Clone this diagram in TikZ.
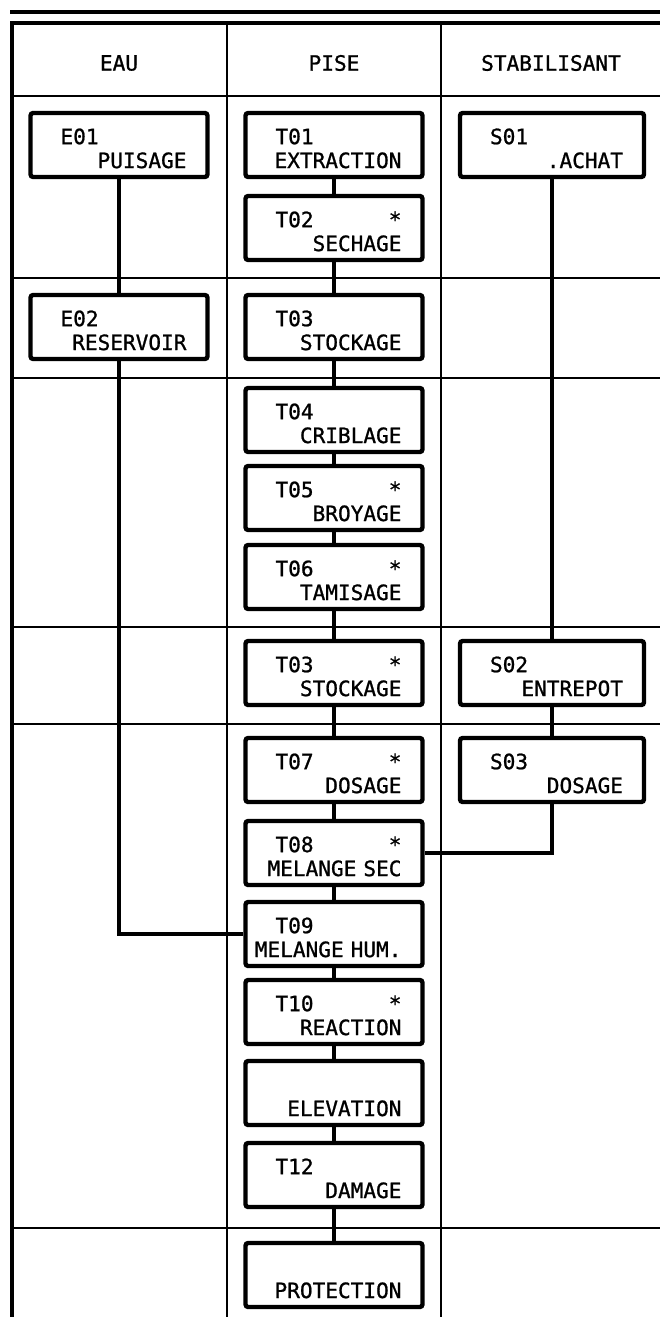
\documentclass[tikz,border=0pt]{standalone}
\usepackage{fontspec}
\setmainfont{DejaVu Sans Mono}[FakeBold=1]
\usepackage{tikz}

\newcommand{\stepid}[2]{\rule{0pt}{0.45cm}\hspace*{0.18cm}#1\hfill#2\null}

\begin{document}
\begin{tikzpicture}[
x=0.02cm, y=-0.02cm,
font=\fontsize{12}{13.6}\selectfont,
grid/.style={line width=1.1pt},
frame/.style={line width=2.2pt},
box/.style={draw, line width=2.5pt, rounded corners=1.5pt, fill=white, inner xsep=0.42cm, inner ysep=0pt, text width=#1, minimum height=1.28cm, align=right},
box/.default=2.7cm,
link/.style={line width=2.3pt}
]
\useasboundingbox (0,0) rectangle (660,1317);
\draw[line width=2.3pt] (10,12) -- (660,12);
\draw[frame] (12,1317) -- (12,23) -- (660,23);
\draw[grid] (227,23) -- (227,1317);
\draw[grid] (441,23) -- (441,1317);
\foreach \y in {96,278,378,627,724,1228}
  \draw[grid] (12,\y) -- (660,\y);

\node (eau) at (119,63) {EAU};
\node (pise) at (334,63) {PISE};
\node (stab) at (551,63) {STABILISANT};

\node[box] (e01) at (119,145) {\stepid{E01}{}\\PUISAGE};
\node[box] (e02) at (119,327) {\stepid{E02}{}\\RESERVOIR};
\node[box] (t01) at (334,145) {\stepid{T01}{}\\EXTRACTION};
\node[box] (t02) at (334,228) {\stepid{T02}{*}\\SECHAGE};
\node[box] (t03) at (334,327) {\stepid{T03}{}\\STOCKAGE};
\node[box] (t04) at (334,420) {\stepid{T04}{}\\CRIBLAGE};
\node[box] (t05) at (334,498) {\stepid{T05}{*}\\BROYAGE};
\node[box] (t06) at (334,577) {\stepid{T06}{*}\\TAMISAGE};
\node[box] (t03b) at (334,673) {\stepid{T03}{*}\\STOCKAGE};
\node[box] (t07) at (334,770) {\stepid{T07}{*}\\DOSAGE};
\node[box] (t08) at (334,853) {\stepid{T08}{*}\\MELANGE SEC};
\node[box] (t09) at (334,934) {\stepid{T09}{}\\\leavevmode\llap{MELANGE HUM.}};
\node[box] (t10) at (334,1012) {\stepid{T10}{*}\\REACTION};
\node[box] (elev) at (334,1093) {\rule{0pt}{0.45cm}\\ELEVATION};
\node[box] (t12) at (334,1175) {\stepid{T12}{}\\DAMAGE};
\node[box] (prot) at (334,1275) {\rule{0pt}{0.45cm}\\PROTECTION};
\node[box=2.84cm] (s01) at (552,145) {\stepid{S01}{}\\.ACHAT};
\node[box=2.84cm] (s02) at (552,673) {\stepid{S02}{}\\ENTREPOT};
\node[box=2.84cm] (s03) at (552,770) {\stepid{S03}{}\\DOSAGE};

\draw[link] (e01) -- (e02);
\draw[link] (e02) |- (t09);
\draw[link] (s01) -- (s02) -- (s03);
\draw[link] (s03) |- (t08);
\draw[link] (t01) -- (t02) -- (t03) -- (t04) -- (t05) -- (t06) -- (t03b) -- (t07) -- (t08) -- (t09) -- (t10) -- (elev) -- (t12) -- (prot);
\end{tikzpicture}
\end{document}
